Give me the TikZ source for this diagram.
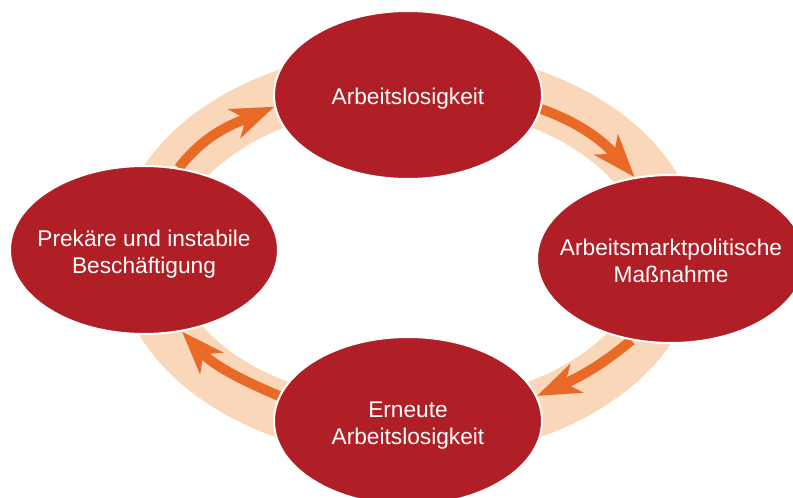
\documentclass[tikz,border=0pt]{standalone}
\usepackage{fontspec}
\setmainfont{Liberation Sans}
\usetikzlibrary{arrows.meta,shapes.geometric}
\definecolor{nodered}{HTML}{B01F26}
\definecolor{bandpeach}{HTML}{FBD7B9}
\definecolor{arroworange}{HTML}{E86A26}
\pgfdeclarelayer{background}
\pgfsetlayers{background,main}
\newcommand{\stagetext}[1]{\makebox[0pt][c]{\raisebox{-9.5pt}[0pt][0pt]{\begin{tabular}{@{}c@{}}#1\end{tabular}}}}
\begin{document}
\begin{tikzpicture}[x=1pt,y=-1pt,
  stage/.style={ellipse, fill=nodered, draw=white, line width=2pt,
    minimum width=268pt, minimum height=168pt, inner sep=0pt,
    text=white, font=\fontsize{22.7}{27}\selectfont},
  band/.style={draw=bandpeach, line width=56pt},
  flow/.style={draw=arroworange, line width=10pt,
    -{Stealth[length=43pt,width=31pt,inset=12pt]}}]
\useasboundingbox (0,0) rectangle (793,498);
\node[stage] (top) at (408,95) {\stagetext{Arbeitslosigkeit}};
\node[stage] (right) at (671,259) {\stagetext{Arbeitsmarktpolitische\\Maßnahme}};
\node[stage] (bottom) at (408,421) {\stagetext{Erneute\\Arbeitslosigkeit}};
\node[stage] (left) at (144,250) {\stagetext{Prekäre und instabile\\Beschäftigung}};
\begin{pgfonlayer}{background}
\fill[white] (0,0) rectangle (793,498);
\draw[band] (408,254) ellipse [x radius=264pt, y radius=177pt];
\draw[flow] (left.67) to[out=52,in=203] (top.185);
\draw[flow] (top.-6) to[out=-20,in=131] (right.114);
\draw[flow] (right.244) to[out=220,in=24] (bottom.11);
\draw[flow] (bottom.169) to[out=157,in=313] (left.295);
\end{pgfonlayer}
\end{tikzpicture}
\end{document}
